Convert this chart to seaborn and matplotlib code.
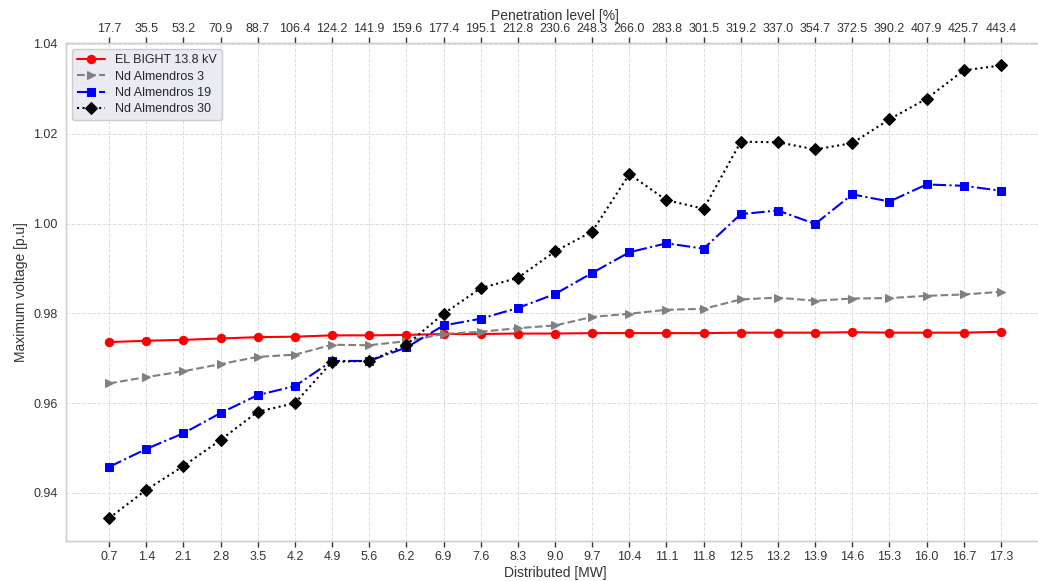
import numpy as np
import pandas as pd
import matplotlib
matplotlib.use("Agg")
import matplotlib.pyplot as plt
import seaborn as sns

distributed_labels = ["0.7", "1.4", "2.1", "2.8", "3.5", "4.2", "4.9", "5.6", "6.2", "6.9",
                      "7.6", "8.3", "9.0", "9.7", "10.4", "11.1", "11.8", "12.5", "13.2",
                      "13.9", "14.6", "15.3", "16.0", "16.7", "17.3"]
penetration_labels = ["17.7", "35.5", "53.2", "70.9", "88.7", "106.4", "124.2", "141.9",
                      "159.6", "177.4", "195.1", "212.8", "230.6", "248.3", "266.0", "283.8",
                      "301.5", "319.2", "337.0", "354.7", "372.5", "390.2", "407.9", "425.7",
                      "443.4"]

el_bight = [0.9736, 0.9739, 0.9741, 0.9744, 0.9747, 0.9748, 0.9751, 0.9751, 0.9752, 0.9754,
            0.9754, 0.9755, 0.9755, 0.9756, 0.9756, 0.9756, 0.9756, 0.9757, 0.9757, 0.9757,
            0.9758, 0.9757, 0.9757, 0.9757, 0.9759]
nd_alm_3 = [0.9644, 0.9658, 0.9671, 0.9687, 0.9703, 0.9708, 0.9730, 0.9729, 0.9738, 0.9754,
            0.9759, 0.9767, 0.9773, 0.9792, 0.9799, 0.9808, 0.9810, 0.9831, 0.9835, 0.9828,
            0.9833, 0.9834, 0.9839, 0.9842, 0.9848]
nd_alm_19 = [0.9458, 0.9498, 0.9533, 0.9578, 0.9618, 0.9638, 0.9694, 0.9694, 0.9724, 0.9773,
             0.9788, 0.9812, 0.9843, 0.9890, 0.9936, 0.9956, 0.9944, 1.0021, 1.0029, 0.9999,
             1.0065, 1.0049, 1.0087, 1.0084, 1.0073]
nd_alm_30 = [0.9344, 0.9407, 0.9460, 0.9518, 0.9581, 0.9600, 0.9692, 0.9694, 0.9730, 0.9799,
             0.9856, 0.9879, 0.9938, 0.9982, 1.0110, 1.0052, 1.0033, 1.0182, 1.0181, 1.0165,
             1.0179, 1.0232, 1.0278, 1.0341, 1.0352]

series = [
    ("EL BIGHT 13.8 kV", el_bight, "red", "o", "-"),
    ("Nd Almendros 3", nd_alm_3, "gray", ">", "--"),
    ("Nd Almendros 19", nd_alm_19, "blue", "s", "-."),
    ("Nd Almendros 30", nd_alm_30, "black", "D", ":"),
]

sns.set_theme(style="whitegrid", rc={
    "grid.linestyle": "--", "grid.color": "#dddddd", "grid.linewidth": 0.7,
    "axes.edgecolor": "#d0d0d0", "axes.linewidth": 1.0,
})
plt.rcParams["font.family"] = ["Liberation Sans", "DejaVu Sans"]

fig = plt.figure(figsize=(10.38, 5.81), dpi=100)
ax = fig.add_axes([0.0636, 0.0688, 0.9422, 0.8572])

idx = np.arange(len(distributed_labels))
for name, vals, color, marker, ls in series:
    df = pd.DataFrame({"x": idx, "y": vals})
    sns.lineplot(data=df, x="x", y="y", ax=ax, color=color, marker=marker,
                 linestyle=ls, markersize=6, markeredgecolor=color, linewidth=1.5,
                 label=name)

ax.set_xlim(-1.16, 25.16)
ax.set_ylim(0.9293, 1.0402)
ax.set_xticks(idx)
ax.set_xticklabels(distributed_labels, fontsize=9, color="#333333")
ax.set_yticks([0.94, 0.96, 0.98, 1.00, 1.02, 1.04])
ax.set_yticklabels(["0.94", "0.96", "0.98", "1.00", "1.02", "1.04"], fontsize=9, color="#333333")
ax.set_xlabel("Distributed [MW]", fontsize=10, color="#333333", labelpad=2)
ax.set_ylabel("Maximum voltage [p.u]", fontsize=10, color="#333333")
ax.tick_params(axis="x", direction="out", length=4, width=1, color="#333333", bottom=True, pad=3)
ax.tick_params(axis="y", length=0, pad=6)

ax2 = ax.twiny()
ax2.set_xlim(ax.get_xlim())
ax2.set_xticks(idx)
ax2.set_xticklabels(penetration_labels, fontsize=9, color="#333333")
ax2.set_xlabel("Penetration level [%]", fontsize=10, color="#333333", labelpad=2)
ax2.tick_params(axis="x", direction="out", length=4, width=1, color="#333333", top=True, pad=2)
ax2.grid(False)

leg = ax.legend(loc="upper left", fontsize=9, frameon=True, facecolor="#eaeaf2",
                edgecolor="#cccccc", framealpha=1.0, borderpad=0.4, labelspacing=0.35,
                handlelength=2.2)

fig.savefig("out.png", dpi=100)
